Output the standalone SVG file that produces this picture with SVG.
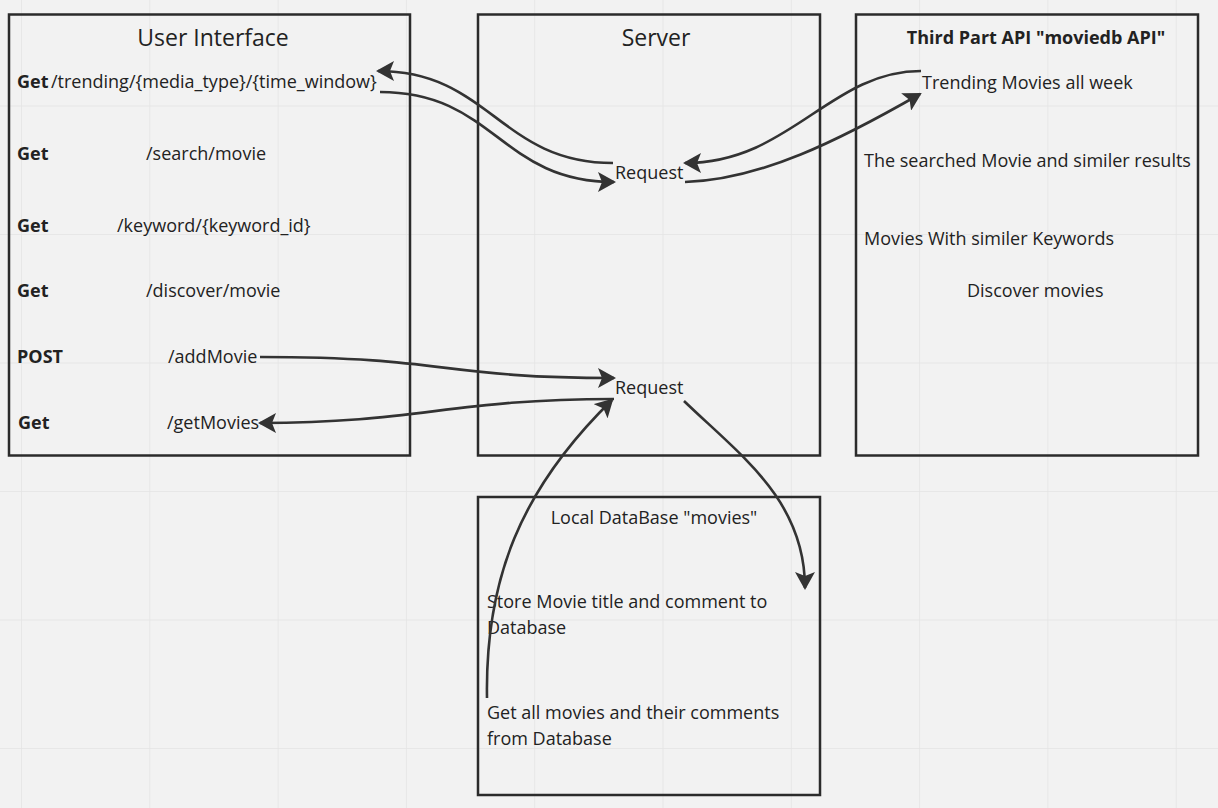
<svg xmlns="http://www.w3.org/2000/svg" width="1218" height="808" viewBox="0 0 1218 808">
<defs>
  <pattern id="grid" x="21" y="-23" width="128.3" height="128.5" patternUnits="userSpaceOnUse">
    <path d="M0,0 V128.5 M0,0 H128.3" fill="none" stroke="#e4e4e4" stroke-width="1.5"/>
  </pattern>
  <marker id="arr" viewBox="0 0 18 20" markerUnits="userSpaceOnUse" markerWidth="18" markerHeight="20" refX="16" refY="10" orient="auto">
    <path d="M0,0 L18,10 L0,20 L4,10 z" fill="#333"/>
  </marker>
  <style>
    .box{fill:none;stroke:#2b2b2b;stroke-width:2.5}
    text{font-family:"Open Sans","Liberation Sans",sans-serif;fill:#222;font-size:18px}
    .title{font-size:23px;text-anchor:middle}
    .b{font-weight:bold}
    .c{text-anchor:middle}
    .conn path{fill:none;stroke:#333;stroke-width:2.6;marker-end:url(#arr)}
  </style>
</defs>
<rect width="1218" height="808" fill="#f2f2f2"/>
<rect width="1218" height="808" fill="url(#grid)"/>

<g id="user-interface">
  <rect class="box" x="9" y="14.5" width="401" height="441"/>
  <text class="title" x="213" y="46">User Interface</text>
  <text class="b" x="17" y="88">Get</text><text x="51" y="88">/trending/{media_type}/{time_window}</text>
  <text class="b" x="17" y="160">Get</text><text x="146" y="160">/search/movie</text>
  <text class="b" x="17" y="232">Get</text><text x="117" y="232">/keyword/{keyword_id}</text>
  <text class="b" x="17" y="297">Get</text><text x="146" y="297">/discover/movie</text>
  <text class="b" x="17" y="363">POST</text><text x="168" y="363">/addMovie</text>
  <text class="b" x="18" y="429">Get</text><text x="167" y="429">/getMovies</text>
</g>

<g id="server">
  <rect class="box" x="478" y="14.5" width="342" height="441"/>
  <text class="title" x="656" y="46">Server</text>
  <text x="615" y="179">Request</text>
  <text x="615" y="394">Request</text>
</g>

<g id="third-party-api">
  <rect class="box" x="856" y="14.5" width="342" height="441"/>
  <text class="b c" x="1036" y="44">Third Part API "moviedb API"</text>
  <text x="922" y="89">Trending Movies all week</text>
  <text x="864" y="167">The searched Movie and similer results</text>
  <text x="864" y="245">Movies With similer Keywords</text>
  <text x="967" y="297">Discover movies</text>
</g>

<g id="local-database">
  <rect class="box" x="478" y="497" width="342" height="298"/>
  <text class="c" x="654" y="524">Local DataBase "movies"</text>
  <text x="487" y="608">Store Movie title and comment to</text>
  <text x="487" y="634">Database</text>
  <text x="487" y="719">Get all movies and their comments</text>
  <text x="487" y="745">from Database</text>
</g>

<g id="connectors" class="conn">
  <path d="M613,163 C500,163 490,71 378,71"/>
  <path d="M380,92 C495,92 500,182 614,182"/>
  <path d="M921,71 C830,71 790,163 685,163"/>
  <path d="M685,182 C760,180 840,140 920,94"/>
  <path d="M260,357 C450,357 440,378 614,378"/>
  <path d="M614,399 C450,399 420,423 260,423"/>
  <path d="M487,698 C485,580 520,490 612,400"/>
  <path d="M684,401 C740,455 805,500 805,588"/>
</g>
</svg>
